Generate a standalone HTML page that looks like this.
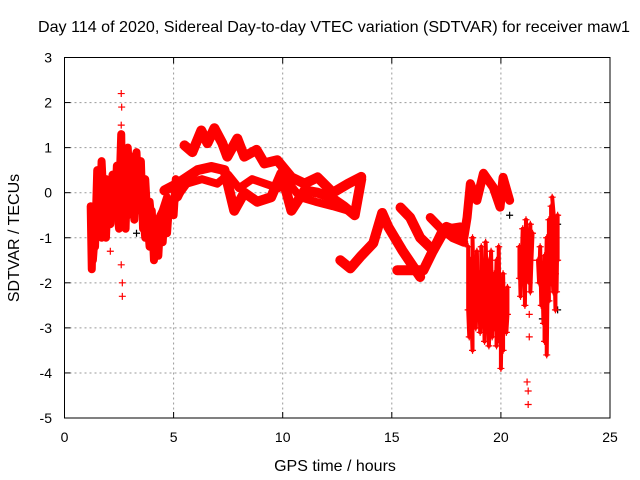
<!DOCTYPE html>
<html><head><meta charset="utf-8"><style>
body{margin:0;background:#fff}
svg{display:block;font-family:"Liberation Sans",sans-serif}
</style></head><body>
<svg id="c" width="640" height="480">
<text x="334" y="32" font-size="16" textLength="592" lengthAdjust="spacingAndGlyphs" text-anchor="middle">Day 114 of 2020, Sidereal Day-to-day VTEC variation (SDTVAR) for receiver maw1</text>
<text transform="translate(19,238) rotate(-90)" font-size="16" text-anchor="middle">SDTVAR / TECUs</text>
<text x="335" y="471" font-size="16" text-anchor="middle">GPS time / hours</text>
<g id="grid"></g><g id="marks"></g><g id="axes"></g>
</svg>
<script>
const xTicks=[0,5,10,15,20,25];
const yTicks=[3,2,1,0,-1,-2,-3,-4,-5];
const trackEarly=[[1.2,-0.3],[1.25,-1.7],[1.3,-0.5],[1.4,-1.2],[1.5,0.5],[1.6,-0.8],[1.7,0.7],[1.8,-0.3],[1.9,-1.0],[2.0,0.2],[2.1,-0.7],[2.2,0.4],[2.3,-0.5],[2.4,0.6],[2.5,-0.2],[2.6,1.3],[2.65,-0.5],[2.7,0.9],[2.8,-0.8],[2.9,1.0],[3.0,-0.3],[3.1,0.8],[3.2,-0.6],[3.3,0.9],[3.4,-0.2],[3.5,0.7],[3.6,-0.8],[3.7,0.3],[3.8,-0.6],[3.9,-1.2],[4.0,-0.4],[4.1,-1.5],[4.2,-0.8],[4.3,-1.4],[4.4,-0.5],[4.5,-1.1],[4.6,-0.3],[4.7,-0.9],[4.8,-0.2],[5.0,-0.5],[5.1,0.3],[5.2,-0.1],[5.4,0.1]];
const trackEarly2=[[1.3,-1.5],[1.5,-0.2],[1.7,-1.0],[1.9,0.3],[2.1,-0.2],[2.3,0.1],[2.5,-0.8],[2.7,0.3],[2.9,-0.5],[3.1,0.2],[3.3,-0.4],[3.5,0.1],[3.7,-1.0],[3.9,-0.2],[4.1,-1.2],[4.3,-0.6],[4.5,-0.4],[4.7,-0.1],[4.9,-0.4]];
const outliersEarly=[[2.6,2.2],[2.62,1.9],[2.65,-2.0],[2.65,-2.3],[2.6,-1.6],[2.6,1.5],[2.1,-1.3]];
const trackUpper=[[5.5,1.05],[5.86,0.9],[6.27,1.38],[6.55,1.1],[6.87,1.43],[7.23,1.1],[7.46,0.8],[7.92,1.2],[8.24,0.8],[8.8,0.95],[9.16,0.65],[9.75,0.72],[10.4,0.34],[11.0,0.2],[11.6,0.34],[12.3,0.0],[13.0,0.2],[13.6,0.35]];
const trackLower=[[4.58,0.05],[5.17,0.2],[6.1,0.5],[6.73,0.57],[7.33,0.5],[7.78,-0.4],[8.24,0.0],[8.83,-0.2],[9.47,-0.1],[9.94,0.43],[10.4,-0.4],[11.0,0.05],[11.6,0.0],[12.2,-0.1],[12.8,-0.3],[13.3,-0.5],[13.6,0.3]];
const trackMid=[[5.0,-0.2],[5.6,0.2],[6.3,0.3],[7.0,0.2],[7.5,0.4],[8.0,0.1],[8.6,0.3],[9.2,0.2],[9.8,0.1],[10.3,0.2],[10.8,-0.1],[11.5,-0.2],[12.3,-0.3],[13.0,-0.4]];
const trackC=[[12.64,-1.5],[13.1,-1.68],[13.6,-1.4],[14.15,-1.12],[14.56,-0.45],[14.84,-0.76],[15.48,-1.28],[16.3,-1.87]];
const trackD=[[15.4,-0.33],[15.84,-0.55],[16.3,-1.0],[16.9,-1.28],[17.5,-0.76],[18.27,-0.9]];
const trackE=[[15.25,-1.72],[16.45,-1.72],[17.35,-0.83],[18.13,-0.77]];
const trackF=[[16.76,-0.55],[17.2,-0.77],[17.8,-1.0],[18.3,-1.1]];
const trackHigh=[[18.3,-1.0],[18.45,-0.55],[18.6,0.2],[18.9,-0.17],[19.2,0.43],[19.65,0.12],[19.96,-0.32],[20.1,0.34],[20.4,-0.17]];
const cluster1=[[18.5,-1.2],[18.5,-2.6],[18.55,-3.2],[18.6,-2.0],[18.6,-1.5],[18.65,-2.8],[18.7,-3.5],[18.7,-1.0],[18.75,-2.2],[18.8,-2.5],[18.8,-1.6],[18.85,-3.0],[18.9,-2.1],[18.9,-1.3],[18.95,-2.7],[19.0,-2.3],[19.0,-1.8],[19.05,-3.1],[19.1,-2.5],[19.1,-1.2],[19.15,-2.0],[19.2,-2.8],[19.2,-1.6],[19.25,-3.3],[19.3,-2.4],[19.3,-1.1],[19.35,-2.0],[19.4,-2.9],[19.4,-1.5],[19.45,-3.4],[19.5,-2.6],[19.5,-2.0],[19.55,-1.3],[19.6,-2.8],[19.6,-3.2],[19.65,-2.2],[19.7,-1.8],[19.7,-3.0],[19.75,-2.5],[19.8,-1.5],[19.8,-3.4],[19.85,-2.1],[19.9,-2.9],[19.9,-1.2],[19.95,-3.3],[20.0,-2.6],[20.0,-3.9],[20.05,-2.2],[20.1,-3.5],[20.1,-1.8],[20.15,-2.9],[20.2,-2.4],[20.25,-3.1],[20.3,-2.7],[20.3,-2.1]];
const cluster2=[[20.85,-1.9],[20.85,-1.2],[20.9,-2.3],[20.95,-1.6],[21.0,-0.8],[21.0,-1.4],[21.05,-2.0],[21.1,-1.1],[21.1,-2.5],[21.15,-0.6],[21.2,-1.7],[21.25,-1.0],[21.3,-2.0],[21.3,-1.3],[21.35,-0.7],[21.35,-2.2],[21.4,-1.5],[21.45,-0.9]];
const outliers2=[[21.2,-4.2],[21.25,-4.4],[21.25,-4.7],[21.3,-3.2],[21.3,-2.7]];
const cluster3=[[21.7,-1.5],[21.75,-2.0],[21.8,-1.2],[21.85,-2.5],[21.9,-1.8],[21.95,-2.9],[22.0,-1.4],[22.0,-3.3],[22.05,-2.1],[22.1,-1.0],[22.1,-3.6],[22.15,-1.7],[22.2,-2.4],[22.2,-0.6],[22.25,-1.3],[22.3,-2.0],[22.3,-0.3],[22.35,-1.6],[22.4,-2.2],[22.4,-0.9],[22.45,-1.4],[22.5,-2.6],[22.5,-1.8],[22.55,-2.2],[22.6,-0.5],[22.6,-1.5],[22.35,-0.1]];
const blackPts=[[1.3,-0.6],[1.6,0.1],[2.0,-0.5],[2.8,0.3],[3.3,-0.9],[4.2,-1.0],[20.2,-2.6],[21.2,-1.9],[21.9,-2.8],[22.6,-2.6],[20.4,-0.5],[22.6,-0.7]];

const L=64.5,R=610,T=57.5,B=418;
const X=t=>L+t/25*(R-L);
const Y=v=>T+(3-v)/8*(B-T);
const NS="http://www.w3.org/2000/svg";
function mk(tag,parent,attrs){const e=document.createElementNS(NS,tag);for(const k in attrs)e.setAttribute(k,attrs[k]);parent.appendChild(e);return e;}
const grid=document.getElementById('grid'),marks=document.getElementById('marks'),axes=document.getElementById('axes');
xTicks.forEach(t=>{
  if(t>0&&t<25){const g=mk('line',grid,{x1:X(t),x2:X(t),y1:T,y2:B,stroke:'#999','stroke-dasharray':'2,3'});
  
  }
  const k=mk('line',axes,{x1:X(t),x2:X(t),y1:B,y2:B-6,stroke:'#000'});
  
  
  const k2=mk('line',axes,{x1:X(t),x2:X(t),y1:T,y2:T+6,stroke:'#000'});
  
  
  const tx=mk('text',axes,{x:X(t),y:B+24,'font-size':14,'text-anchor':'middle'});tx.textContent=t;
  
  
});
yTicks.forEach(v=>{
  if(v<3&&v>-5){const g=mk('line',grid,{x1:L,x2:R,y1:Y(v),y2:Y(v),stroke:'#999','stroke-dasharray':'2,3'});
  
  }
  const k=mk('line',axes,{x1:L,x2:L+6,y1:Y(v),y2:Y(v),stroke:'#000'});
  
  
  const k2=mk('line',axes,{x1:R,x2:R-6,y1:Y(v),y2:Y(v),stroke:'#000'});
  
  
  const tx=mk('text',axes,{x:52,y:Y(v)+5,'font-size':14,'text-anchor':'end'});tx.textContent=v;
  
  
});
const fr=mk('rect',axes,{x:L,y:T,width:R-L,height:B-T,fill:'none',stroke:'#000'});



function band(arr,w,name){
  const p=mk('polyline',marks,{points:arr.map(d=>X(d[0])+','+Y(d[1])).join(' '),fill:'none',stroke:'#f00','stroke-width':w,'stroke-linejoin':'round','stroke-linecap':'round'});
  
  
}
function crosses(arr,col,name){
  arr.forEach(d=>{
    const x=X(d[0]),y=Y(d[1]);
    const p=mk('path',marks,{d:`M${x-3.5},${y}h7M${x},${y-3.5}v7`,stroke:col,'stroke-width':1.2});
    
    
  });
}
crosses(blackPts,'#000','black-point');
band(trackEarly,8,'early-track');
band(trackEarly2,8,'early-track-2');
band(trackUpper,10,'upper-track');
band(trackLower,10,'lower-track');
band(trackMid,8,'mid-track');
band(trackC,10,'track-c');
band(trackD,10,'track-d');
band(trackE,10,'track-e');
band(trackF,9,'track-f');
band(trackHigh,9,'track-high');
band(cluster1,4,'cluster-1');
band(cluster2,4,'cluster-2');
band(cluster3,4,'cluster-3');
[trackEarly,trackEarly2,outliersEarly,trackUpper,trackLower,trackMid,trackC,trackD,trackE,trackF,trackHigh,cluster1,cluster2,outliers2,cluster3].forEach(a=>crosses(a,'#f00','data-point'));
</script>
</body></html>
